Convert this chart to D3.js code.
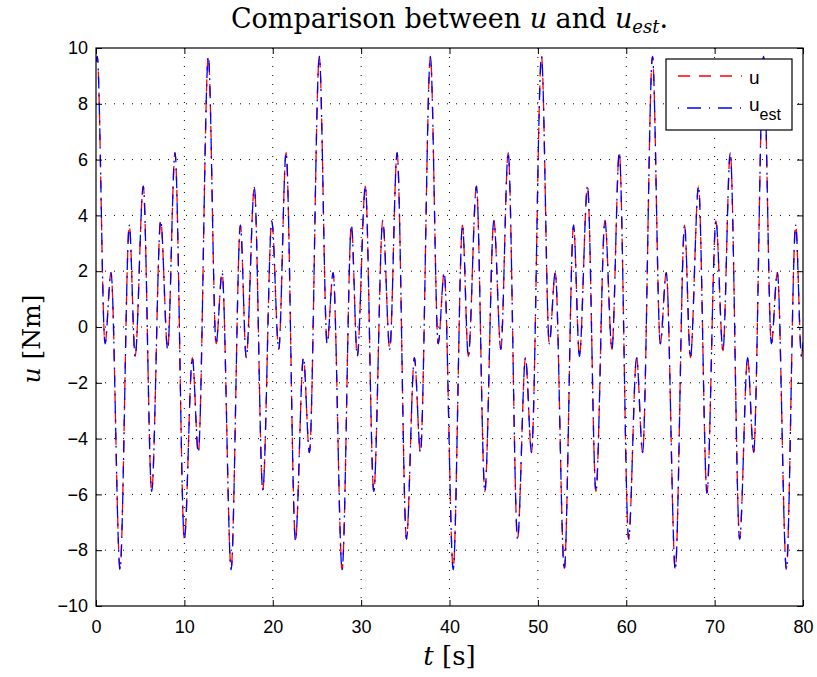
<!DOCTYPE html>
<html>
<head>
<meta charset="utf-8">
<script src="https://cdn.jsdelivr.net/npm/d3@7"></script>
<style>
  body { margin: 0; background: #fff; }
  svg { display: block; }
</style>
</head>
<body>
<div id="chart"></div>
<script>
////////////////////////////////////////////////////////////////////////
// Data (local extrema of the torque signal)

const tVals = [0, 0.14, 1.02, 1.70, 2.72, 3.77, 4.43, 5.35, 6.30, 7.32, 8.11, 8.94, 10.00, 10.90, 11.58,
  12.71, 13.59, 14.27, 15.29, 16.34, 17.00, 17.92, 18.87, 19.89, 20.68, 21.51, 22.57, 23.47, 24.15,
  25.27, 26.15, 26.83, 27.85, 28.90, 29.56, 30.48, 31.43, 32.45, 33.24, 34.07, 35.13, 36.03, 36.71,
  37.84, 38.72, 39.40, 40.42, 41.47, 42.13, 43.05, 44.00, 45.02, 45.81, 46.64, 47.70, 48.60, 49.28,
  50.41, 51.29, 51.97, 52.99, 54.04, 54.70, 55.62, 56.57, 57.59, 58.38, 59.21, 60.27, 61.17, 61.85,
  62.97, 63.85, 64.53, 65.55, 66.60, 67.26, 68.18, 69.13, 70.15, 70.94, 71.77, 72.83, 73.73, 74.41,
  75.54, 76.42, 77.10, 78.12, 79.17, 79.83, 80];

const uVals = [9.5, 9.7, -0.6, 1.95, -8.65, 3.65, -1.05, 5.05, -5.9, 3.82, -0.8, 6.25, -7.6, -1.1, -4.5,
  9.7, -0.6, 1.95, -8.65, 3.65, -1.1, 5.0, -5.85, 3.8, -0.8, 6.25, -7.65, -1.1, -4.5,
  9.7, -0.6, 1.95, -8.7, 3.65, -1.05, 5.05, -5.9, 3.82, -0.8, 6.25, -7.6, -1.1, -4.5,
  9.7, -0.6, 1.95, -8.65, 3.65, -1.05, 5.05, -5.9, 3.82, -0.8, 6.25, -7.6, -1.1, -4.5,
  9.7, -0.6, 1.95, -8.65, 3.65, -1.05, 5.05, -5.9, 3.82, -0.8, 6.25, -7.6, -1.1, -4.5,
  9.7, -0.6, 1.95, -8.7, 3.65, -1.1, 5.05, -5.95, 3.8, -0.85, 6.25, -7.6, -1.1, -4.5,
  9.7, -0.6, 1.95, -8.65, 3.65, -1.05, -0.55];

const uEstVals = [9.5, 9.7, -0.6, 1.95, -8.7, 3.65, -1.05, 5.05, -5.9, 3.82, -0.8, 6.25, -7.6, -1.1, -4.5,
  9.7, -0.6, 1.95, -8.7, 3.65, -1.1, 5.0, -5.85, 3.8, -0.8, 6.25, -7.65, -1.1, -4.5,
  9.7, -0.6, 1.95, -8.7, 3.65, -1.05, 5.05, -5.9, 3.82, -0.8, 6.25, -7.6, -1.1, -4.5,
  9.7, -0.6, 1.95, -8.7, 3.65, -1.05, 5.05, -5.9, 3.82, -0.8, 6.25, -7.6, -1.1, -4.5,
  9.7, -0.6, 1.95, -8.7, 3.65, -1.05, 5.05, -5.9, 3.82, -0.8, 6.25, -7.6, -1.1, -4.5,
  9.7, -0.6, 1.95, -8.7, 3.65, -1.1, 5.05, -5.95, 3.8, -0.85, 6.25, -7.6, -1.1, -4.5,
  9.7, -0.6, 1.95, -8.7, 3.65, -1.05, -0.55];

const xTicks = [0, 10, 20, 30, 40, 50, 60, 70, 80];
const yTicks = [-10, -8, -6, -4, -2, 0, 2, 4, 6, 8, 10];

////////////////////////////////////////////////////////////////////////
// Layout

const width = 817, height = 677;
const plotL = 96, plotR = 803, plotT = 48, plotB = 606;

const svg = d3.select("#chart")
  .append("svg")
  .attr("width", width)
  .attr("height", height);

const xScale = d3.scaleLinear().domain([0, 80]).range([plotL, plotR]);
const yScale = d3.scaleLinear().domain([-10, 10]).range([plotB, plotT]);

// dotted grid
const grid = svg.append("g").attr("class", "grid");

grid.selectAll("line.gx")
  .data(xTicks.slice(1, -1))
  .join("line")
  .attr("class", "gx")
  .attr("x1", d => xScale(d)).attr("x2", d => xScale(d))
  .attr("y1", plotT).attr("y2", plotB);

grid.selectAll("line.gy")
  .data(yTicks.slice(1, -1))
  .join("line")
  .attr("class", "gy")
  .attr("x1", plotL).attr("x2", plotR)
  .attr("y1", d => yScale(d)).attr("y2", d => yScale(d));

grid.selectAll("line")
  .attr("stroke", "#000")
  .attr("stroke-width", 1)
  .attr("stroke-dasharray", "1,8");

// curves
svg.append("clipPath").attr("id", "plotclip")
  .append("rect")
  .attr("x", plotL).attr("y", plotT)
  .attr("width", plotR - plotL).attr("height", plotB - plotT);

const lineGen = d3.line()
  .x(d => xScale(d[0]))
  .y(d => yScale(d[1]))
  .curve(d3.curveMonotoneX);

const uData = tVals.map((t, i) => [t, uVals[i]]);
const uEstData = tVals.map((t, i) => [t, uEstVals[i]]);

const curves = svg.append("g").attr("clip-path", "url(#plotclip)");

curves.append("path")
  .datum(uData)
  .attr("d", lineGen)
  .attr("fill", "none")
  .attr("stroke", "#ff0000")
  .attr("stroke-width", 1.3)
  .attr("stroke-dasharray", "12,9");

curves.append("path")
  .datum(uEstData)
  .attr("d", lineGen)
  .attr("fill", "none")
  .attr("stroke", "#0000ff")
  .attr("stroke-width", 1.3)
  .attr("stroke-dasharray", "12,6,2,6");

// axes (ticks point inward, mirrored on top/right like a boxed matlab plot)
const tickFont = "'Liberation Sans', Arial, sans-serif";

svg.append("g")
  .attr("transform", `translate(0,${plotB})`)
  .call(d3.axisBottom(xScale).tickValues(xTicks).tickSizeInner(-6).tickSizeOuter(0).tickPadding(14));

svg.append("g")
  .attr("transform", `translate(${plotL},0)`)
  .call(d3.axisLeft(yScale).tickValues(yTicks).tickSizeInner(-6).tickSizeOuter(0).tickPadding(8)
    .tickFormat(d => d < 0 ? "\u2212" + Math.abs(d) : d));

svg.append("g")
  .attr("transform", `translate(0,${plotT})`)
  .call(d3.axisTop(xScale).tickValues(xTicks).tickSizeInner(-6).tickSizeOuter(0).tickFormat(""));

svg.append("g")
  .attr("transform", `translate(${plotR},0)`)
  .call(d3.axisRight(yScale).tickValues(yTicks).tickSizeInner(-6).tickSizeOuter(0).tickFormat(""));

svg.selectAll(".domain").remove();
svg.selectAll(".tick line").attr("stroke", "#000");
svg.selectAll(".tick text")
  .attr("fill", "#000")
  .style("font-family", tickFont)
  .style("font-size", "18px");

// frame
svg.append("rect")
  .attr("x", plotL).attr("y", plotT)
  .attr("width", plotR - plotL).attr("height", plotB - plotT)
  .attr("fill", "none")
  .attr("stroke", "#000")
  .attr("stroke-width", 1.2);

// legend
const lg = svg.append("g").attr("class", "legend");
lg.append("rect")
  .attr("x", 666).attr("y", 59)
  .attr("width", 126).attr("height", 71)
  .attr("fill", "#fff")
  .attr("stroke", "#000")
  .attr("stroke-width", 1.2);

lg.append("line")
  .attr("x1", 678).attr("x2", 742).attr("y1", 76).attr("y2", 76)
  .attr("stroke", "#ff0000").attr("stroke-width", 1.3)
  .attr("stroke-dasharray", "12,9");

lg.append("line")
  .attr("x1", 678).attr("x2", 742).attr("y1", 108).attr("y2", 108)
  .attr("stroke", "#0000ff").attr("stroke-width", 1.3)
  .attr("stroke-dasharray", "1,8,14,8");

lg.append("text")
  .attr("x", 749).attr("y", 84)
  .style("font-family", tickFont).style("font-size", "19px")
  .text("u");

const lt = lg.append("text")
  .attr("x", 749).attr("y", 111)
  .style("font-family", tickFont).style("font-size", "19px");
lt.append("tspan").text("u");
lt.append("tspan").attr("dy", 9).style("font-size", "16px").text("est");

// title and axis labels
const serif = "'DejaVu Serif', 'Liberation Serif', serif";

const title = svg.append("text")
  .attr("x", (plotL + plotR) / 2).attr("y", 28)
  .attr("text-anchor", "middle")
  .style("font-family", serif).style("font-size", "27px");
title.append("tspan").text("Comparison between ");
title.append("tspan").style("font-style", "italic").text("u");
title.append("tspan").text(" and ");
title.append("tspan").style("font-style", "italic").text("u");
title.append("tspan").attr("dy", 5).style("font-style", "italic").style("font-size", "18px").text("est");
title.append("tspan").attr("dy", -5).text(".");

const xl = svg.append("text")
  .attr("x", (plotL + plotR) / 2).attr("y", 665)
  .attr("text-anchor", "middle")
  .style("font-family", serif).style("font-size", "26px");
xl.append("tspan").style("font-style", "italic").text("t");
xl.append("tspan").text(" [s]");

const yl = svg.append("text")
  .attr("transform", `translate(40,${(plotT + plotB) / 2 + 12}) rotate(-90)`)
  .attr("text-anchor", "middle")
  .style("font-family", serif).style("font-size", "25px");
yl.append("tspan").style("font-style", "italic").text("u");
yl.append("tspan").text(" [Nm]");
</script>
</body>
</html>
